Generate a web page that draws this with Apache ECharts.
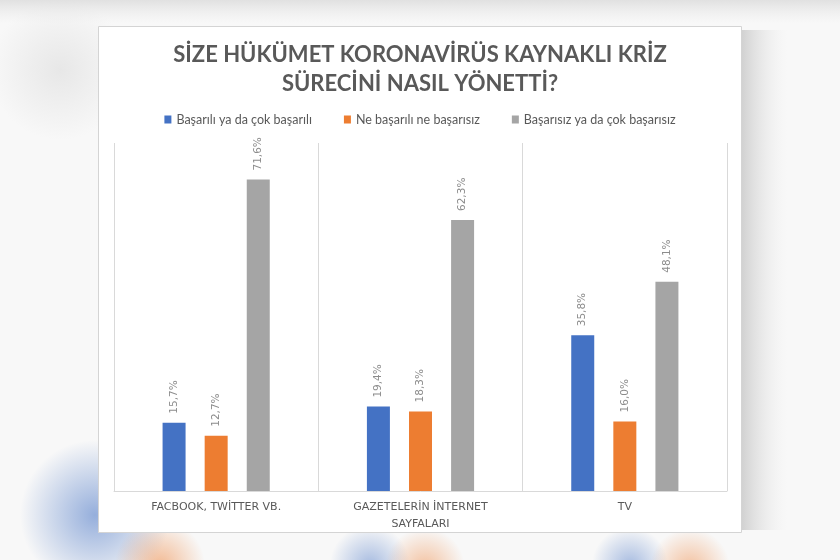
<!DOCTYPE html>
<html><head><meta charset="utf-8">
<script src="https://cdn.jsdelivr.net/npm/echarts@6/dist/echarts.min.js"></script>
<style>html,body{margin:0;padding:0;background:#f5f5f5}#c{width:840px;height:560px}</style>
</head><body><div id="c"></div>
<script>
const categories = ['FACBOOK, TWİTTER VB.', 'GAZETELERİN İNTERNET\nSAYFALARI', 'TV'];
const seriesNames = ['Başarılı ya da çok başarılı', 'Ne başarılı ne başarısız', 'Başarısız ya da çok başarısız'];
const successful = [15.7, 19.4, 35.8];
const neutral = [12.7, 18.3, 16.0];
const unsuccessful = [71.6, 62.3, 48.1];
const colors = ['#4472c4', '#ed7d31', '#a5a5a5'];
const titleText = 'SİZE HÜKÜMET KORONAVİRÜS KAYNAKLI KRİZ\nSÜRECİNİ NASIL YÖNETTİ?';

const chart = echarts.init(document.getElementById('c'), null, {renderer: 'canvas'});
const values = [successful, neutral, unsuccessful];
const fmt = p => p.value.toFixed(1).replace('.', ',') + '%';
const radial = (rgb, a) => ({type: 'radial', x: 0.5, y: 0.5, r: 0.5, colorStops: [
  {offset: 0, color: 'rgba(' + rgb + ',' + a + ')'},
  {offset: 0.4, color: 'rgba(' + rgb + ',' + (a * 0.6) + ')'},
  {offset: 1, color: 'rgba(' + rgb + ',0)'}]});
const blob = (cx, cy, r, rgb, a) => ({type: 'circle', z: -20, shape: {cx, cy, r},
  style: {fill: radial(rgb, a)}});
const band = (x, y, w, h, horiz, c0) => ({type: 'rect', z: -19, shape: {x, y, width: w, height: h},
  style: {fill: {type: 'linear', x: 0, y: 0, x2: horiz ? 1 : 0, y2: horiz ? 0 : 1, colorStops: [
    {offset: 0, color: c0}, {offset: 1, color: 'rgba(235,235,235,0)'}]}}});
chart.setOption({
  backgroundColor: '#f8f8f8',
  graphic: [
    band(0, 0, 840, 24, false, 'rgba(222,222,222,0.9)'),
    band(742, 30, 45, 500, true, 'rgba(205,205,205,0.9)'),
    blob(60, 70, 70, '220,220,220', 0.6),
    blob(95, 515, 75, '68,114,196', 0.55),
    blob(160, 565, 45, '237,125,49', 0.5),
    blob(370, 565, 40, '68,114,196', 0.45),
    blob(425, 568, 40, '237,125,49', 0.45),
    blob(630, 565, 38, '68,114,196', 0.45),
    blob(690, 568, 40, '237,125,49', 0.45),
    {type: 'rect', z: -10, shape: {x: 98.5, y: 26.5, width: 643, height: 506},
      style: {fill: '#ffffff', stroke: '#d4d4d4', lineWidth: 1}}
  ],
  title: {
    text: titleText, left: 'center', top: 35,
    textStyle: {fontFamily: 'Lato', fontWeight: 'bold', fontSize: 22, color: '#595959', lineHeight: 29}
  },
  legend: {
    top: 108, left: 'center', itemWidth: 7, itemHeight: 8, itemGap: 32,
    icon: 'rect',
    textStyle: {fontFamily: 'Lato', fontSize: 12.5, color: '#595959'},
    data: seriesNames
  },
  grid: {left: 114, right: 113, top: 143, bottom: 69},
  xAxis: {
    type: 'category', data: categories,
    axisLine: {lineStyle: {color: '#d9d9d9'}},
    axisTick: {show: false},
    splitLine: {show: true, lineStyle: {color: '#d9d9d9'}},
    axisLabel: {fontFamily: 'DejaVu Sans', fontSize: 11, color: '#595959', margin: 8, lineHeight: 17}
  },
  yAxis: {type: 'value', min: 0, max: 80, show: false, splitLine: {show: false}},
  series: seriesNames.map((n, i) => ({
    name: n, type: 'bar', data: values[i], barWidth: 23, barGap: '83%',
    itemStyle: {color: colors[i]},
    label: {show: true, position: 'top', rotate: 90, align: 'left', verticalAlign: 'middle',
      distance: 9, formatter: fmt, fontFamily: 'DejaVu Sans', fontSize: 10.5, color: '#8c8c8c'}
  }))
});
</script></body></html>
